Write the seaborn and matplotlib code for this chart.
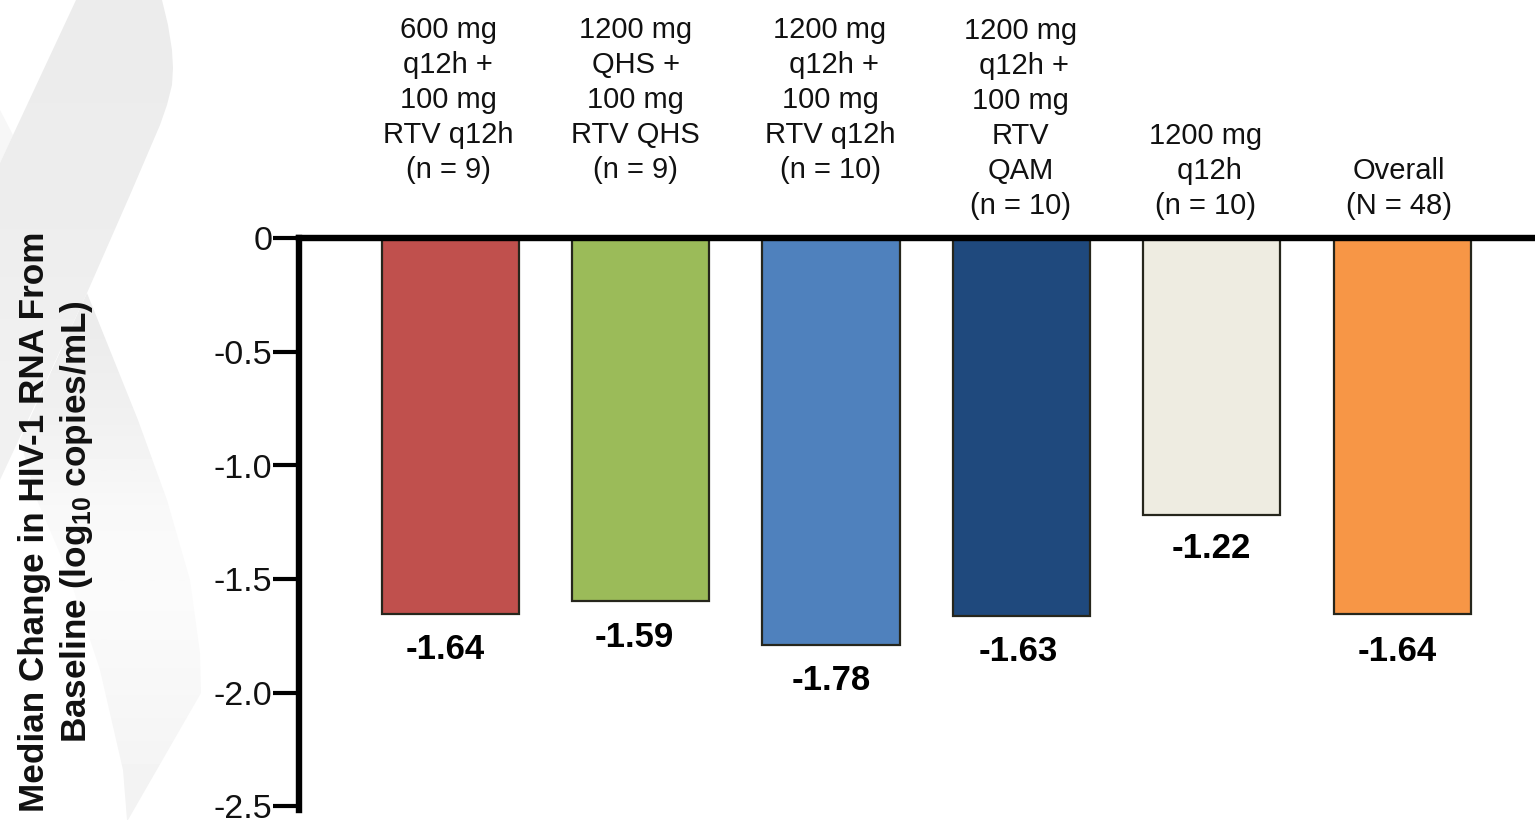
import numpy as np
import pandas as pd
import matplotlib
matplotlib.use("Agg")
import matplotlib.pyplot as plt
from matplotlib.patches import Polygon
import seaborn as sns

# ---- data ----
groups = ["600 mg\nq12h +\n100 mg\nRTV q12h\n(n = 9)",
          "1200 mg\nQHS +\n100 mg\nRTV QHS\n(n = 9)",
          "1200 mg\n q12h +\n100 mg\nRTV q12h\n(n = 10)",
          "1200 mg\n q12h +\n100 mg\nRTV\nQAM\n(n = 10)",
          "1200 mg\n q12h\n(n = 10)",
          "Overall\n(N = 48)"]
bar_lengths = [-1.655, -1.598, -1.791, -1.664, -1.219, -1.655]
printed_values = ["-1.64", "-1.59", "-1.78", "-1.63", "-1.22", "-1.64"]
colors = ["#C0504D", "#9BBB59", "#4F81BD", "#1F497D", "#EEECE1", "#F79646"]
y_ticks = [0, -0.5, -1.0, -1.5, -2.0, -2.5]
y_tick_labels = ["0", "-0.5", "-1.0", "-1.5", "-2.0", "-2.5"]

# label placement, pixels relative to bar
header_dx = [-2, -5, -1, -1, -6, -3]
header_dy = [54, 54, 54, 18, 18, 18]
value_dx = [-5, -6, 0, -3, 0, -5]
value_dy = [-35, -36, -35, -35, -33, -37]

W, H = 1535, 822
sns.set_theme(style="white")
plt.rcParams["font.family"] = ["Liberation Sans", "DejaVu Sans"]
plt.rcParams["mathtext.fontset"] = "custom"
plt.rcParams["mathtext.bf"] = "Liberation Sans:bold"
plt.rcParams["mathtext.rm"] = "Liberation Sans"
plt.rcParams["mathtext.default"] = "bf"

fig = plt.figure(figsize=(W / 100, H / 100), dpi=100, facecolor="white")

# faint ribbon watermark behind the chart
bg = fig.add_axes([0, 0, 1, 1], zorder=0)
bg.set_xlim(0, W); bg.set_ylim(H, 0); bg.axis("off")
ribbon_pieces = [
    ([(0, 110), (13, 135), (0, 163)], [0.965, 0.965]),
    ([(87, 293), (138, 420), (167, 500), (190, 580), (200, 653), (201, 693), (128, 820),
      (127, 820), (123, 770), (100, 670), (67, 570), (37, 500), (20, 440)],
     [0.925, 0.945, 0.975, 0.982, 0.97, 0.955]),
    ([(76, 0), (162, 0), (168, 25), (172, 50), (173, 68), (172, 85), (167, 105), (160, 125),
      (130, 195), (87, 293), (0, 480), (0, 163), (13, 135)], [0.925, 0.93, 0.945]),
]
for pts, stops in ribbon_pieces:
    grad = np.array(stops).reshape(-1, 1)
    ys = [p[1] for p in pts]
    im = bg.imshow(grad, cmap="gray", vmin=0, vmax=1, aspect="auto", interpolation="bilinear",
                   extent=(0, W, max(ys), min(ys)), zorder=1)
    poly = Polygon(pts, closed=True, transform=bg.transData, fc="none", ec="none")
    bg.add_patch(poly)
    im.set_clip_path(poly)
bg.set_xlim(0, W); bg.set_ylim(H, 0)

# main axes
top_px, bot_px, left_px = 238.3, 810, 299
ax = fig.add_axes([left_px / W, 1 - bot_px / H, (W - left_px) / W, (bot_px - top_px) / H], zorder=1)
ax.patch.set_alpha(0)

df = pd.DataFrame({"group": groups, "change": bar_lengths})
sns.barplot(data=df, x="group", y="change", hue="group", palette=colors, dodge=False,
            legend=False, width=0.72, edgecolor="#26261c", linewidth=1.6, saturation=1, ax=ax)

unit = 190.4
ax.set_xlim((left_px - 450.2) / unit, (W - 450.2) / unit)
ax.set_ylim(-(bot_px - top_px) / 227.2, 0)
ax.set_yticks(y_ticks)
ax.set_yticklabels(y_tick_labels, fontsize=24.5, color="#111111")
ax.tick_params(axis="y", length=19, width=3, color="black", pad=0, left=True)
ax.tick_params(axis="x", bottom=False, labelbottom=False)
ax.set_xlabel(""); ax.set_ylabel("")
ax.grid(False)
for side in ("right", "bottom"):
    ax.spines[side].set_visible(False)
for side in ("left", "top"):
    ax.spines[side].set_visible(True)
    ax.spines[side].set_color("black")
    ax.spines[side].set_linewidth(4.6)
    ax.spines[side].set_zorder(5)

for i, label in enumerate(groups):
    ax.annotate(label, xy=(i, 0), xytext=(header_dx[i], header_dy[i]), textcoords="offset pixels",
                ha="center", va="bottom", multialignment="center", fontsize=21, linespacing=1.325,
                color="#111111", annotation_clip=False)
for i, label in enumerate(printed_values):
    ax.annotate(label, xy=(i, bar_lengths[i]), xytext=(value_dx[i], value_dy[i]),
                textcoords="offset pixels", ha="center", va="center", fontsize=25,
                fontweight="bold", color="black", annotation_clip=False)

fig.text(56.5 / W, 1 - 522 / H,
         "Median Change in HIV-1 RNA From\nBaseline (log$_{10}$ copies/mL)",
         rotation=90, ha="center", va="center", multialignment="center",
         fontsize=25.3, fontweight="bold", color="#111111", linespacing=1.25)

fig.savefig("out.png", dpi=100)
